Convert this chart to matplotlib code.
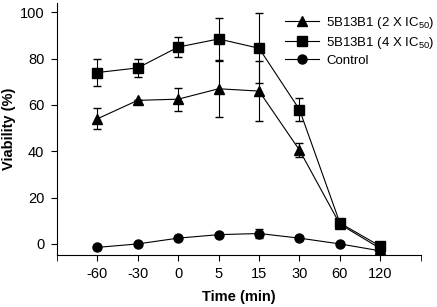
import matplotlib.pyplot as plt

plt.rcParams['font.family'] = ['Liberation Sans', 'DejaVu Sans']
plt.rcParams['mathtext.fontset'] = 'custom'
plt.rcParams['mathtext.rm'] = 'Liberation Sans'

times = ['-60', '-30', '0', '5', '15', '30', '60', '120']

# 5B13B1 (2 X IC50)
tri = [54, 62, 62.5, 67, 66, 40.5, 8.5, -2]
tri_err = [4.5, 0, 5, 12, 13, 3, 0, 0]

# 5B13B1 (4 X IC50)
sq = [74, 76, 85, 88.5, 84.5, 58, 9, -1]
sq_err = [6, 4, 4.5, 9, 15, 5, 0, 0]

# Control
ctrl = [-1.5, 0, 2.5, 4, 4.5, 2.5, 0, -3]
ctrl_err = [0, 0, 0, 0, 2, 0, 0, 0]

x = list(range(len(times)))

fig = plt.figure(figsize=(4.37, 3.07), dpi=100)
ax = fig.add_axes([0.13, 0.17, 0.833, 0.82])

ax.errorbar(x, tri, yerr=tri_err, marker='^', ms=7.5, color='black', lw=0.8,
            elinewidth=0.8, capsize=3, label='5B13B1 (2 X IC$_{\\mathrm{50}}$)')
ax.errorbar(x, sq, yerr=sq_err, marker='s', ms=6.5, color='black', lw=0.8,
            elinewidth=0.8, capsize=3, label='5B13B1 (4 X IC$_{\\mathrm{50}}$)')
ax.errorbar(x, ctrl, yerr=ctrl_err, marker='o', ms=6.5, color='black', lw=0.8,
            elinewidth=0.8, capsize=3, label='Control')

ax.set_xlim(-1, 8)
ax.set_ylim(-4.7, 104)
ax.set_xticks(x)
ax.set_xticklabels(times)
ax.set_xticks([-1, 8], minor=True)
ax.tick_params(axis='x', which='minor', length=4)
ax.set_yticks([0, 20, 40, 60, 80, 100])
ax.tick_params(labelsize=10.5, length=4, width=0.8, pad=5)
ax.spines['top'].set_visible(False)
ax.spines['right'].set_visible(False)
ax.set_xlabel('Time (min)', fontweight='bold', fontsize=10.5, labelpad=6)
ax.set_ylabel('Viability (%)', fontweight='bold', fontsize=10.5)
ax.yaxis.set_label_coords(-0.112, 0.5)

handles, labels = ax.get_legend_handles_labels()
handles = [h[0] for h in handles]
ax.legend(handles, labels, loc='upper right', frameon=False, fontsize=9.5,
          handlelength=2.6, handletextpad=0.5, bbox_to_anchor=(1.07, 1.0),
          labelspacing=0.3)

fig.savefig('out.png', dpi=100)
